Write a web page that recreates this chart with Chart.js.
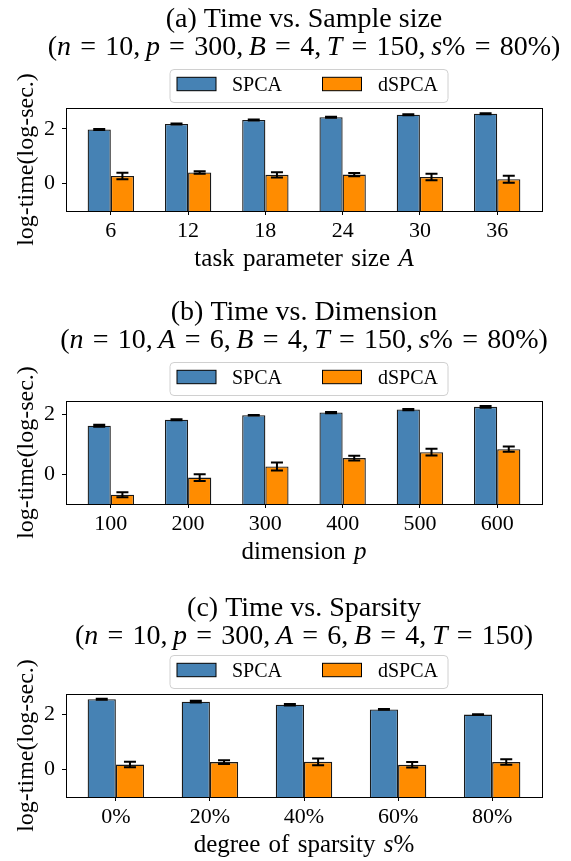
<!DOCTYPE html>
<html>
<head>
<meta charset="utf-8">
<script src="https://cdn.jsdelivr.net/npm/chart.js@4.4.1/dist/chart.umd.min.js"></script>
<style>
  body { margin: 0; background: #fff; }
  canvas { position: absolute; left: 0; }
</style>
</head>
<body>
<canvas id="chartA" width="571" height="293" style="top:0px"></canvas>
<canvas id="chartB" width="571" height="293" style="top:293px"></canvas>
<canvas id="chartC" width="571" height="275" style="top:586px"></canvas>
<script>
const seriesNames = ['SPCA', 'dSPCA'];
const yTicks = [0, 2];

const catsA = ['6', '12', '18', '24', '30', '36'];
const spcaA = [1.98, 2.18, 2.33, 2.43, 2.52, 2.56];
const spcaErrA = [0.02, 0.02, 0.02, 0.02, 0.02, 0.02];
const dspcaA = [0.27, 0.40, 0.31, 0.32, 0.23, 0.15];
const dspcaErrA = [0.12, 0.045, 0.1, 0.06, 0.12, 0.13];

const catsB = ['100', '200', '300', '400', '500', '600'];
const spcaB = [1.62, 1.82, 1.97, 2.06, 2.16, 2.25];
const spcaErrB = [0.03, 0.02, 0.01, 0.02, 0.02, 0.03];
const dspcaB = [-0.68, -0.11, 0.26, 0.54, 0.74, 0.84];
const dspcaErrB = [0.085, 0.11, 0.13, 0.08, 0.11, 0.09];

const catsC = ['0%', '20%', '40%', '60%', '80%'];
const spcaC = [2.55, 2.46, 2.35, 2.18, 1.99];
const spcaErrC = [0.02, 0.03, 0.03, 0.01, 0.01];
const dspcaC = [0.17, 0.26, 0.27, 0.16, 0.26];
const dspcaErrC = [0.1, 0.07, 0.12, 0.1, 0.1];

const FONT = '"Liberation Serif", "Times New Roman", serif';
const BLUE = '#4682b4';
const ORANGE = '#ff8c00';

// draws "word _italic_ word" strings, spaces become gaps in em
function drawRich(ctx, str, cx, baseline, size, gaps) {
  const words = str.split(' ');
  const runs = [];
  let total = 0;
  words.forEach((w, k) => {
    w.split('_').forEach((seg, j) => {
      if (!seg) return;
      ctx.font = (j % 2 ? 'italic ' : '') + size + 'px ' + FONT;
      const wd = ctx.measureText(seg).width;
      runs.push({ seg, font: ctx.font, dx: total });
      total += wd;
    });
    if (k < words.length - 1) {
      const eq = w === '=' || words[k + 1] === '=';
      total += size * (eq ? gaps.eq : gaps.space);
    }
  });
  const x0 = cx - total / 2;
  ctx.fillStyle = '#000';
  ctx.textBaseline = 'alphabetic';
  ctx.textAlign = 'left';
  runs.forEach(r => { ctx.font = r.font; ctx.fillText(r.seg, x0 + r.dx, baseline); });
}

const decorPlugin = {
  id: 'decor',
  afterDatasetsDraw(chart) {
    const ctx = chart.ctx;
    const ys = chart.scales.y;
    ctx.save();
    // error bars
    chart.data.datasets.forEach((ds, i) => {
      const meta = chart.getDatasetMeta(i);
      meta.data.forEach((el, j) => {
        const v = ds.data[j].y, e = ds.errors[j];
        const y1 = ys.getPixelForValue(v - e), y2 = ys.getPixelForValue(v + e);
        ctx.strokeStyle = '#000';
        ctx.lineWidth = 2;
        ctx.beginPath();
        ctx.moveTo(el.x, y1); ctx.lineTo(el.x, y2);
        ctx.moveTo(el.x - 6, y1); ctx.lineTo(el.x + 6, y1);
        ctx.moveTo(el.x - 6, y2); ctx.lineTo(el.x + 6, y2);
        ctx.stroke();
      });
    });
    // axes frame
    const a = chart.chartArea;
    ctx.strokeStyle = '#000';
    ctx.lineWidth = 1;
    ctx.strokeRect(a.left + 0.5, a.top + 0.5, a.right - a.left, a.bottom - a.top);
    ctx.restore();
  },
  afterDraw(chart, args, opts) {
    const ctx = chart.ctx;
    const a = chart.chartArea;
    const cx = (a.left + a.right) / 2;
    ctx.save();
    // titles
    drawRich(ctx, opts.title[0], cx, 26.5 + opts.shift, 28, { space: 0.25, eq: 0.33 });
    drawRich(ctx, opts.title[1], cx, 54.5 + opts.shift, 28, { space: 0.2, eq: 0.33 });
    // legend
    const bl = cx - 134.5, bt = a.top - 39, bw = 278, bh = 33;
    ctx.beginPath();
    ctx.roundRect(bl + 0.5, bt + 0.5, bw, bh, 4);
    ctx.fillStyle = 'rgba(255,255,255,0.8)';
    ctx.fill();
    ctx.strokeStyle = '#d0d0d0';
    ctx.lineWidth = 1;
    ctx.stroke();
    const items = [[7.5, 62.5], [153, 208.5]];
    chart.data.datasets.forEach((ds, i) => {
      const [sx, tx] = items[i];
      ctx.fillStyle = ds.backgroundColor;
      ctx.fillRect(bl + sx, bt + 8.3, 39, 13.4);
      ctx.strokeStyle = '#000';
      ctx.lineWidth = 1;
      ctx.strokeRect(bl + sx, bt + 8.3, 39, 13.4);
      ctx.fillStyle = '#000';
      ctx.font = '20px ' + FONT;
      ctx.textBaseline = 'alphabetic';
      ctx.textAlign = 'left';
      ctx.fillText(ds.label, bl + tx, bt + 22);
    });
    // x label
    drawRich(ctx, opts.xlabel, cx, a.bottom + 55, 25, { space: 0.333, eq: 0.333 });
    ctx.restore();
  }
};

function makeChart(id, cats, spca, spcaErr, dspca, dspcaErr, yMin, yMax, title, xlabel, shift) {
  const canvas = document.getElementById(id);
  const H = canvas.height;
  const pad = 0.28 / 0.5 * 0.5 + 0.3;
  const tickFont = { family: FONT, size: 22 };
  new Chart(canvas.getContext('2d'), {
    type: 'bar',
    data: {
      datasets: [
        { label: seriesNames[0], data: cats.map((c, i) => ({ x: i, y: spca[i] })), errors: spcaErr,
          backgroundColor: BLUE, borderColor: '#1a1a1a', borderWidth: 1.3, base: yMin },
        { label: seriesNames[1], data: cats.map((c, i) => ({ x: i, y: dspca[i] })), errors: dspcaErr,
          backgroundColor: ORANGE, borderColor: '#1a1a1a', borderWidth: 1.3, base: yMin }
      ]
    },
    options: {
      animation: false,
      responsive: false,
      layout: { padding: { top: 108, right: 29, bottom: 0, left: 0 } },
      datasets: { bar: { categoryPercentage: 0.6, barPercentage: 1.0 } },
      plugins: {
        legend: { display: false },
        title: { display: false },
        tooltip: { enabled: false },
        decor: { title, xlabel, shift }
      },
      scales: {
        x: {
          type: 'linear',
          min: -0.3 - 0.05 * (cats.length - 0.4),
          max: cats.length - 0.7 + 0.05 * (cats.length - 0.4),
          offset: false,
          grid: { offset: false, drawOnChartArea: false, drawTicks: true, tickLength: 4, color: '#000' },
          border: { display: false },
          ticks: { font: tickFont, color: '#000', padding: 3, maxRotation: 0, callback: v => cats[v] },
          afterBuildTicks: s => { s.ticks = cats.map((c, i) => ({ value: i })); },
          afterFit: s => { s.height = H - 211; }
        },
        y: {
          min: yMin,
          max: yMax,
          grid: { drawOnChartArea: false, drawTicks: true, tickLength: 4, color: '#000' },
          border: { display: false },
          ticks: { font: tickFont, color: '#000', padding: 7 },
          afterBuildTicks: s => { s.ticks = yTicks.map(v => ({ value: v })); },
          afterFit: s => { s.width = 66; },
          title: { display: true, text: 'log-time(log-sec.)', color: '#000',
                   font: { family: FONT, size: 24 }, padding: { top: 12, bottom: 0 } }
        }
      }
    },
    plugins: [decorPlugin]
  });
}

makeChart('chartA', catsA, spcaA, spcaErrA, dspcaA, dspcaErrA, -1.02, 2.77,
  ['(a) Time vs. Sample size', '(_n_ = 10, _p_ = 300, _B_ = 4, _T_ = 150, _s_% = 80%)'],
  'task parameter size _A_', 0);
makeChart('chartB', catsB, spcaB, spcaErrB, dspcaB, dspcaErrB, -0.99, 2.445,
  ['(b) Time vs. Dimension', '(_n_ = 10, _A_ = 6, _B_ = 4, _T_ = 150, _s_% = 80%)'],
  'dimension _p_', 0);
makeChart('chartC', catsC, spcaC, spcaErrC, dspcaC, dspcaErrC, -1.01, 2.74,
  ['(c) Time vs. Sparsity', '(_n_ = 10, _p_ = 300, _A_ = 6, _B_ = 4, _T_ = 150)'],
  'degree of sparsity _s_%', 3);
</script>
</body>
</html>
